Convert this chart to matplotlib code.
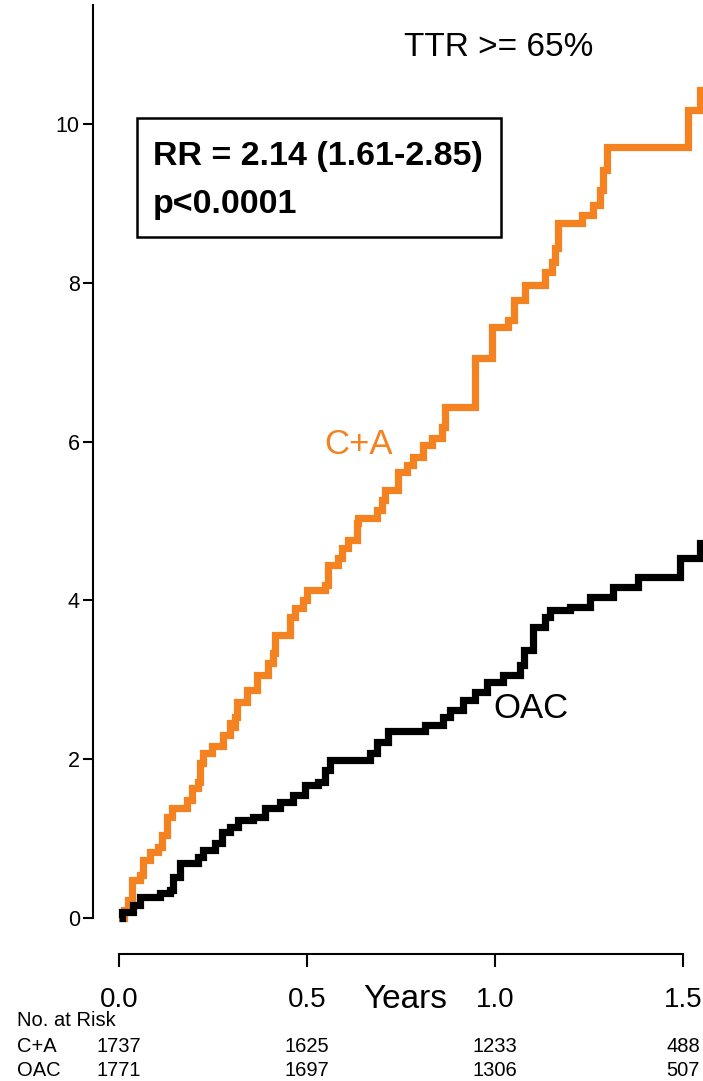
import matplotlib
matplotlib.use("Agg")
import matplotlib.pyplot as plt
import matplotlib.transforms as mtransforms
from matplotlib.patches import Rectangle

# cumulative event rate (%) over follow-up, step change points
ca_years = [0.0, 0.013, 0.024, 0.035, 0.056, 0.064, 0.082, 0.104, 0.114, 0.128,
            0.141, 0.181, 0.194, 0.210, 0.215, 0.223, 0.247, 0.277, 0.295, 0.301,
            0.309, 0.314, 0.340, 0.367, 0.396, 0.410, 0.415, 0.455, 0.468, 0.489,
            0.500, 0.548, 0.556, 0.582, 0.593, 0.609, 0.633, 0.636, 0.686, 0.699,
            0.707, 0.742, 0.766, 0.782, 0.809, 0.832, 0.859, 0.867, 0.947, 0.992,
            1.035, 1.051, 1.080, 1.133, 1.152, 1.160, 1.168, 1.231, 1.261, 1.279,
            1.287, 1.298, 1.513, 1.545, 1.56]
ca_pct = [0.0, 0.10, 0.23, 0.48, 0.54, 0.73, 0.83, 0.89, 1.05, 1.27,
          1.39, 1.49, 1.64, 1.71, 1.95, 2.08, 2.17, 2.30, 2.46, 2.41,
          2.53, 2.72, 2.87, 3.06, 3.21, 3.34, 3.56, 3.79, 3.90, 4.00,
          4.13, 4.19, 4.45, 4.53, 4.66, 4.76, 4.97, 5.04, 5.14, 5.26,
          5.39, 5.62, 5.71, 5.81, 5.96, 6.05, 6.18, 6.44, 7.05, 7.44,
          7.53, 7.78, 7.97, 8.14, 8.26, 8.44, 8.75, 8.85, 8.98, 9.17,
          9.42, 9.71, 10.18, 10.43, 10.43]

oac_years = [0.0, 0.008, 0.037, 0.056, 0.109, 0.136, 0.144, 0.162, 0.210, 0.223,
             0.255, 0.274, 0.295, 0.316, 0.356, 0.388, 0.428, 0.463, 0.495, 0.529,
             0.548, 0.561, 0.668, 0.686, 0.715, 0.814, 0.862, 0.880, 0.915, 0.947,
             0.979, 1.021, 1.066, 1.077, 1.101, 1.133, 1.146, 1.199, 1.253, 1.314,
             1.380, 1.492, 1.545, 1.56]
oac_pct = [0.0, 0.08, 0.16, 0.26, 0.31, 0.35, 0.52, 0.69, 0.77, 0.86,
           0.94, 1.08, 1.15, 1.23, 1.27, 1.39, 1.46, 1.55, 1.68, 1.71,
           1.86, 1.99, 2.08, 2.22, 2.36, 2.43, 2.53, 2.62, 2.75, 2.85,
           2.97, 3.06, 3.19, 3.38, 3.66, 3.79, 3.88, 3.92, 4.04, 4.17,
           4.29, 4.53, 4.72, 4.72]

x_ticks = [0.0, 0.5, 1.0, 1.5]
x_tick_labels = ["0.0", "0.5", "1.0", "1.5"]
y_ticks = [0, 2, 4, 6, 8, 10]

risk_groups = ["C+A", "OAC"]
risk_counts = {"C+A": [1737, 1625, 1233, 488],
               "OAC": [1771, 1697, 1306, 507]}

ORANGE = "#f58220"
W, H = 703, 1081

plain = ["Liberation Sans", "DejaVu Sans"]

fig = plt.figure(figsize=(W / 100, H / 100), dpi=100)
ax = fig.add_axes([0, 0, 1, 1])

# data limits chosen so 0 yr sits at x=119px, 1.5 yr at 683px,
# 0% at y=918px and 10% at y=124px
px_per_year = 376.0
px_per_pct = 79.4
ax.set_xlim(-119 / px_per_year, (W - 119) / px_per_year)
ax.set_ylim((918 - H) / px_per_pct, 918 / px_per_pct)
ax.patch.set_visible(False)

ax.step(ca_years, ca_pct, where="post", color=ORANGE, lw=5.2,
        solid_joinstyle="miter", solid_capstyle="butt", clip_on=True)
ax.step(oac_years, oac_pct, where="post", color="black", lw=5.2,
        solid_joinstyle="miter", solid_capstyle="butt", clip_on=True)

# detached axes
for side in ["top", "right"]:
    ax.spines[side].set_visible(False)
ax.spines["left"].set_position(("data", (93 - 119) / px_per_year))
ax.spines["left"].set_bounds(0, 11.5)
ax.spines["bottom"].set_position(("data", (918 - 954) / px_per_pct))
ax.spines["bottom"].set_bounds(0, 1.5)
for side in ["left", "bottom"]:
    ax.spines[side].set_linewidth(1.5)

ax.set_yticks(y_ticks)
ax.set_yticklabels([str(v) for v in y_ticks], fontsize=15.5, family=plain)
ax.tick_params(axis="y", direction="out", length=7.5, width=1.5, pad=2)

ax.set_xticks(x_ticks)
ax.set_xticklabels(x_tick_labels, fontsize=20, family=plain)
ax.tick_params(axis="x", direction="out", length=9.5, width=1.5, pad=14)

def fx(px):
    return px / W

def fy(py):
    return 1 - py / H

fig.text(fx(405), fy(999), "Years", fontsize=24, family=plain,
         ha="center", va="center")

fig.text(fx(499), fy(48), "TTR >= 65%", fontsize=24, family=plain,
         ha="center", va="center")

box = Rectangle((fx(137), fy(237)), fx(501) - fx(137), fy(118) - fy(237),
                transform=fig.transFigure, fill=False, lw=1.8, ec="black")
fig.patches.append(box)
fig.text(fx(153), fy(157), "RR = 2.14 (1.61-2.85)", fontsize=24.5,
         fontweight="bold", family=plain, ha="left", va="center")
fig.text(fx(153), fy(205), "p<0.0001", fontsize=24.5,
         fontweight="bold", family=plain, ha="left", va="center")

fig.text(fx(358), fy(445), "C+A", fontsize=25, family=plain, color=ORANGE,
         ha="center", va="center")
fig.text(fx(531), fy(708), "OAC", fontsize=25, family=plain, color="black",
         ha="center", va="center")

# numbers at risk table under the time axis
trans = mtransforms.blended_transform_factory(ax.transData, fig.transFigure)
fig.text(fx(17), fy(1020), "No. at Risk", fontsize=14.5, family=plain,
         ha="left", va="center")
for row, grp in enumerate(risk_groups):
    yy = fy(1046 + 25 * row)
    fig.text(fx(17), yy, grp, fontsize=14.5, family=plain, ha="left", va="center")
    for t, n in zip(x_ticks, risk_counts[grp]):
        ax.text(t, yy, str(n), transform=trans, fontsize=14.5, family=plain,
                ha="center", va="center", clip_on=False)

fig.savefig("out.png", dpi=100, facecolor="white")
